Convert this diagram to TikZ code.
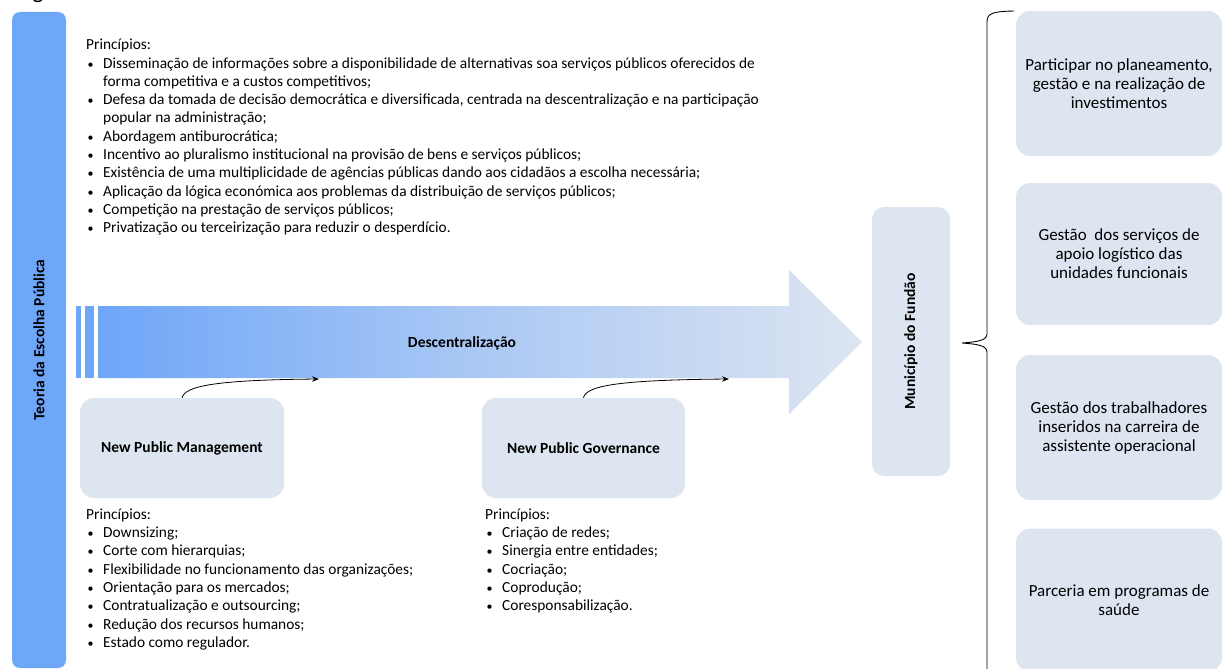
\documentclass[tikz,border=0pt]{standalone}
\usepackage{fontspec}
\setmainfont{Carlito}
\usetikzlibrary{arrows.meta}
\definecolor{barblue}{HTML}{6EA6F8}
\definecolor{lightbox}{HTML}{DDE5F1}
\newcommand\mybul{\makebox[17pt][l]{\hspace{1.5pt}{\fontsize{12}{12}\selectfont\textbullet}}}
\newcommand\myind{\hspace*{17pt}}
\begin{document}
\begin{tikzpicture}[x=1pt,y=-1pt,
  lbox/.style={fill=lightbox, rounded corners=14pt, draw=none, inner sep=2pt},
  body/.style={font=\fontsize{15.4}{18.3}\selectfont, align=left, inner sep=0pt, anchor=north west},
  boxtxt/.style={font=\fontsize{17}{19}\selectfont, align=center},
  boldtxt/.style={font=\fontsize{15.5}{18}\selectfont\bfseries},
  conn/.style={-{Stealth[length=7pt,width=5.5pt]}, line width=0.8pt}
]
\useasboundingbox (0,0) rectangle (1223,669);
\clip (0,0) rectangle (1223,669);
% cut-off title fragment
\node[font=\fontsize{24}{28}\selectfont, anchor=base, inner sep=0pt] (title) at (38,-1) {g};
% left bar
\node[fill=barblue, rounded corners=8pt, rotate=90, minimum width=656pt, minimum height=54pt, inner sep=0pt, boldtxt] (teoria) at (39,340) {Teoria da Escolha Pública};
% top principles
\node[body] (topprinc) at (86,39) {Princípios:\\
\mybul Disseminação de informações sobre a disponibilidade de alternativas soa serviços públicos oferecidos de\\
\myind forma competitiva e a custos competitivos;\\
\mybul Defesa da tomada de decisão democrática e diversificada, centrada na descentralização e na participação\\
\myind popular na administração;\\
\mybul Abordagem antiburocrática;\\
\mybul Incentivo ao pluralismo institucional na provisão de bens e serviços públicos;\\
\mybul Existência de uma multiplicidade de agências públicas dando aos cidadãos a escolha necessária;\\
\mybul Aplicação da lógica económica aos problemas da distribuição de serviços públicos;\\
\mybul Competição na prestação de serviços públicos;\\
\mybul Privatização ou terceirização para reduzir o desperdício.};
% big arrow
\fill[barblue] (76,306) rectangle (80.5,378);
\fill[barblue] (85,306) rectangle (94,378);
\shade[left color=barblue, right color=lightbox, middle color=barblue!45!lightbox] (98,306) -- (789,306) -- (789,270) -- (862,342) -- (789,414) -- (789,378) -- (98,378) -- cycle;
\node[boldtxt] (desc) at (462,343) {Descentralização};
\coordinate (t1) at (319,379);
\coordinate (t2) at (729,379);
% NPM / NPG
\node[lbox, minimum width=204pt, minimum height=100pt, boldtxt] (npm) at (182,448) {New Public Management};
\node[lbox, minimum width=203pt, minimum height=100pt, boldtxt] (npg) at (583.5,448) {New Public Governance};
\draw[conn] (npm.north) .. controls (185,386) and (215,380) .. (t1);
\draw[conn] (npg.north) .. controls (586,386) and (616,380) .. (t2);
\node[body] (npmprinc) at (86,508.5) {Princípios:\\
\mybul Downsizing;\\
\mybul Corte com hierarquias;\\
\mybul Flexibilidade no funcionamento das organizações;\\
\mybul Orientação para os mercados;\\
\mybul Contratualização e outsourcing;\\
\mybul Redução dos recursos humanos;\\
\mybul Estado como regulador.};
\node[body] (npgprinc) at (485,508.5) {Princípios:\\
\mybul Criação de redes;\\
\mybul Sinergia entre entidades;\\
\mybul Cocriação;\\
\mybul Coprodução;\\
\mybul Coresponsabilização.};
% Municipio
\node[lbox, rounded corners=12pt, rotate=90, minimum width=269pt, minimum height=78pt, boldtxt] (mun) at (911,341.5) {Município do Fundão};
% brace
\draw[line width=0.9pt] (1014,11) .. controls (993,11.5) and (987,13) .. (987,22) -- (987,334) .. controls (987,341) and (975,342) .. (962,343) .. controls (975,344) and (987,345) .. (987,352) -- (987,680);
% right boxes
\node[lbox, minimum width=206pt, minimum height=145pt, boxtxt] (b1) at (1119,83.5) {Participar no planeamento,\\gestão e na realização de\\investimentos};
\node[lbox, minimum width=206pt, minimum height=142pt, boxtxt] (b2) at (1119,254) {Gestão~ dos serviços de\\apoio logístico das\\unidades funcionais};
\node[lbox, minimum width=206pt, minimum height=145pt, boxtxt] (b3) at (1119,427.5) {Gestão dos trabalhadores\\inseridos na carreira de\\assistente operacional};
\node[lbox, minimum width=206pt, minimum height=143pt, boxtxt] (b4) at (1119,600) {Parceria em programas de\\saúde};
\end{tikzpicture}
\end{document}
